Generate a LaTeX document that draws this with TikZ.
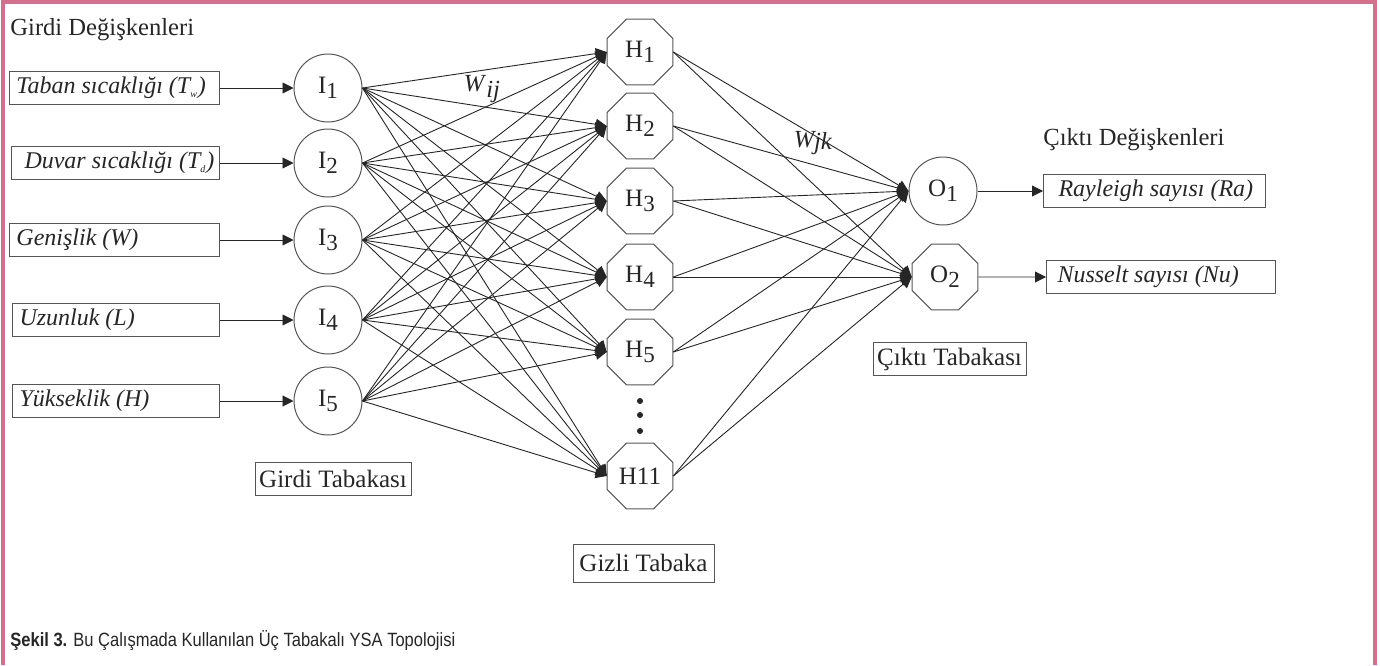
\documentclass[tikz,border=0pt]{standalone}
\usepackage{fontspec}
\setmainfont{Liberation Serif}
\setsansfont{Liberation Sans}[FakeStretch=0.86]
\usetikzlibrary{arrows.meta,shapes.geometric}
\definecolor{pinkb}{RGB}{212,112,142}
\definecolor{ink}{RGB}{38,38,38}
\definecolor{boxc}{RGB}{85,85,85}
\newcommand{\lowidx}[1]{\raisebox{-0.45ex}{\fontsize{11.5}{11.5}\selectfont #1}}
\newcommand{\lbx}[2]{\makebox[#1][l]{#2}}
\begin{document}
\begin{tikzpicture}[x=0.5pt,y=-0.5pt,
  every node/.style={text=ink},
  varbox/.style={draw=boxc, line width=0.5pt, rectangle, inner xsep=3.5pt, inner ysep=0pt,
    minimum height=16.5pt, font=\itshape\fontsize{12}{14}\selectfont},
  laybox/.style={draw=boxc, line width=0.5pt, rectangle, inner sep=0pt,
    minimum height=16.5pt, font=\fontsize{12.5}{14}\selectfont},
  inode/.style={draw=boxc, line width=0.5pt, circle, inner sep=0pt, minimum size=34pt,
    font=\fontsize{12.5}{14}\selectfont},
  hnode/.style={draw=boxc, line width=0.5pt, regular polygon, regular polygon sides=8,
    inner sep=0pt, minimum size=35.5pt, font=\fontsize{12.5}{14}\selectfont},
  conn/.style={draw=ink, line width=0.45pt, -{Triangle[length=5.5pt,width=5.5pt]}},
  dotn/.style={circle, fill=ink, inner sep=0pt, minimum size=3pt},
  plain/.style={inner sep=0pt, font=\fontsize{12.3}{14}\selectfont}
]
\useasboundingbox (0,0) rectangle (1380,665);
\fill[white] (0,0) rectangle (1380,665);
\draw[pinkb, line width=2.2pt] (3,665) -- (3,1.5) -- (1375,1.5) -- (1375,665);

% titles
\node[plain, anchor=west] (gdt) at (10,30) {Girdi Değişkenleri};
\node[plain, anchor=west] (cdt) at (1043,140) {Çıktı Değişkenleri};

% input boxes
\node[varbox, anchor=east] (b1) at (220,88) {\lbx{98pt}{Taban sıcaklığı (T\textsubscript{\tiny w})}};
\node[varbox, anchor=east] (b2) at (220,163) {\lbx{97pt}{\hspace{3pt}Duvar sıcaklığı (T\textsubscript{\tiny d})}};
\node[varbox, anchor=east] (b3) at (220,240) {\lbx{98pt}{Genişlik (W)}};
\node[varbox, anchor=east] (b4) at (220,320) {\lbx{96.5pt}{Uzunluk (L)}};
\node[varbox, anchor=east] (b5) at (220,401) {\lbx{96.5pt}{Yükseklik (H)}};

% input nodes
\node[inode] (I1) at (328,88) {I\lowidx{1}};
\node[inode] (I2) at (328,163) {I\lowidx{2}};
\node[inode] (I3) at (328,240) {I\lowidx{3}};
\node[inode] (I4) at (328,320) {I\lowidx{4}};
\node[inode] (I5) at (328,401) {I\lowidx{5}};

% hidden nodes
\node[hnode] (H1) at (640,52) {H\lowidx{1}};
\node[hnode] (H2) at (640,126) {H\lowidx{2}};
\node[hnode] (H3) at (640,201) {H\lowidx{3}};
\node[hnode] (H4) at (640,277) {H\lowidx{4}};
\node[hnode] (H5) at (640,352) {H\lowidx{5}};
\node[hnode] (H11) at (640,476) {H11};
\node[dotn] (d1) at (640,401) {};
\node[dotn] (d2) at (640,415) {};
\node[dotn] (d3) at (640,431) {};

% output nodes
\node[inode] (O1) at (943,191) {O\lowidx{1}};
\node[hnode] (O2) at (945,277) {O\lowidx{2}};

% output boxes
\node[varbox, anchor=west] (ra) at (1043,191) {\lbx{104pt}{\hspace{4pt}Rayleigh sayısı (Ra)}};
\node[varbox, anchor=west] (nu) at (1046,277) {\lbx{107.5pt}{\hspace{2pt}Nusselt sayısı (Nu)}};

% layer boxes
\node[laybox, minimum width=78pt] (gt) at (333,479) {Girdi Tabakası};
\node[laybox, minimum width=70.5pt, minimum height=19pt] (zt) at (643.5,563) {Gizli Tabaka};
\node[laybox, minimum width=76.5pt] (ct) at (949.5,359) {Çıktı Tabakası};

% weights
\node[plain] (wij) at (482,89) {\textit{W}\raisebox{-0.5ex}{\textit{ij}}};
\node[plain] (wjk) at (813,143) {\textit{W}\hspace{-1pt}\raisebox{-0.15ex}{\textit{jk}}};

% connections
\foreach \i in {1,...,5}{
  \draw[conn] (b\i.east) -- (I\i.west);
  \foreach \h in {1,2,3,4,5,11}{
    \draw[conn] (I\i.east) -- (H\h.west);
  }
}
\foreach \h in {1,2,3,4,5,11}{
  \foreach \o in {1,2}{
    \draw[conn] (H\h.east) -- (O\o.west);
  }
}
\draw[conn] (O1.east) -- (ra.west);
\draw[conn] (O2.east) -- (nu.west);

% caption
\node[inner sep=0pt, anchor=west, font=\sffamily\fontsize{9.6}{11}\selectfont] (cap) at (10,640)
  {\textbf{Şekil 3.} Bu Çalışmada Kullanılan Üç Tabakalı YSA Topolojisi};
\end{tikzpicture}
\end{document}
